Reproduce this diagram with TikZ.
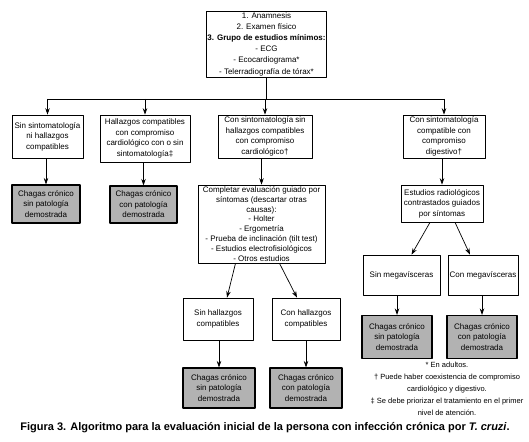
\documentclass[tikz,border=0pt]{standalone}
\usepackage{fontspec}
\setmainfont{Liberation Sans}
\usetikzlibrary{arrows.meta}
\begin{document}
\begin{tikzpicture}[x=1pt,y=-1pt,line join=round,>={Stealth[length=6.5pt,width=4.5pt]},
		caja/.style 2 args={draw,line width=0.7pt,align=center,inner sep=1pt,minimum width=#1,minimum height=#2,font=\fontsize{8}{10.5}\selectfont},
		cronico/.style 2 args={caja={#1}{#2},fill=black!30,line width=1.1pt},
		flecha/.style={->,line width=0.7pt},linea/.style={line width=0.7pt}]
	\useasboundingbox (0,0) rectangle (529,441);
	\node[caja={119pt}{66pt},font=\fontsize{8}{11.2}\selectfont] (inicio) at (266.5,44) {1. Anamnesis\\ 2. Examen físico\\ \textbf{3. Grupo de estudios mínimos:}\\ - ECG\\ - Ecocardiograma*\\ - Telerradiografía de tórax*};
	\coordinate (barra) at (0,99);
	% primera fila
	\node[caja={71pt}{43pt}] (sinsin) at (47.5,136.5) {Sin sintomatología\\ ni hallazgos\\ compatibles};
	\node[caja={90pt}{47pt}] (hallcard) at (145,138.5) {Hallazgos compatibles\\ con compromiso\\ cardiológico con o sin\\ sintomatología‡};
	\node[caja={94pt}{43pt}] (consin) at (265,136.5) {Con sintomatología sin\\ hallazgos compatibles\\ con compromiso\\ cardiológico†};
	\node[caja={82pt}{43pt}] (digest) at (444,136.5) {Con sintomatología\\ compatible con\\ compromiso\\ digestivo†};
	% segunda fila
	\node[cronico={68pt}{38pt}] (cronA) at (46,204) {Chagas crónico\\ sin patología\\ demostrada};
	\node[cronico={67pt}{37pt}] (cronB) at (143.5,204.5) {Chagas crónico\\ con patología\\ demostrada};
	\node[caja={127pt}{78pt},font=\fontsize{8}{9.9}\selectfont] (completar) at (261.5,224) {Completar evaluación guiado por\\ síntomas (descartar otras\\ causas):\\ - Holter\\ - Ergometría\\ - Prueba de inclinación (tilt test)\\ - Estudios electrofisiológicos\\ - Otros estudios};
	\node[caja={82pt}{37pt}] (estudios) at (442,203.5) {Estudios radiológicos\\ contrastados guiados\\ por síntomas};
	% rama digestiva
	\node[caja={77pt}{40pt}] (sinmega) at (401.5,275) {Sin megavísceras};
	\node[caja={70pt}{40pt}] (conmega) at (483,275) {Con megavísceras};
	\node[cronico={70pt}{43pt}] (cronM1) at (397,337) {Chagas crónico\\ sin patología\\ demostrada};
	\node[cronico={70pt}{43pt}] (cronM2) at (482,337) {Chagas crónico\\ con patología\\ demostrada};
	% rama cardiologica
	\node[caja={70pt}{42pt}] (sinhall) at (218,319) {Sin hallazgos\\ compatibles};
	\node[caja={68pt}{42pt}] (conhall) at (306,319) {Con hallazgos\\ compatibles};
	\node[cronico={72pt}{40pt}] (cronH1) at (219,388) {Chagas crónico\\ sin patología\\ demostrada};
	\node[cronico={72pt}{40pt}] (cronH2) at (306,388) {Chagas crónico\\ con patología\\ demostrada};
	% notas y pie
	\node[align=center,inner sep=0pt,font=\fontsize{7.5}{12}\selectfont] (notas) at (447,389) {* En adultos.\\ † Puede haber coexistencia de compromiso\\ cardiológico y digestivo.\\ ‡ Se debe priorizar el tratamiento en el primer\\ nivel de atención.};
	\node[inner sep=0pt,font=\fontsize{11}{13}\selectfont\bfseries] (pie) at (265,428) {Figura 3. Algoritmo para la evaluación inicial de la persona con infección crónica por \textit{T. cruzi}.};
	% conectores
	\draw[linea] (inicio.south)--(inicio.south |- barra);
	\draw[linea] (sinsin.north |- barra)--(digest.north |- barra);
	\foreach \n in {sinsin,hallcard,consin,digest}{\draw[flecha] (\n.north |- barra)--(\n.north);}
	\foreach \a/\b in {sinsin/cronA,hallcard/cronB,consin/completar,digest/estudios,sinhall/cronH1,conhall/cronH2,sinmega/cronM1,conmega/cronM2}{\draw[flecha] (\b.north |- \a.south)--(\b.north);}
	\draw[flecha] ([xshift=-26pt]completar.south)--([xshift=9pt]sinhall.north);
	\draw[flecha] ([xshift=18pt]completar.south)--([xshift=-9pt]conhall.north);
	\draw[flecha] ([xshift=-12pt]estudios.south)--([xshift=10pt]sinmega.north);
	\draw[flecha] ([xshift=13pt]estudios.south)--([xshift=-13pt]conmega.north);
\end{tikzpicture}
\end{document}
